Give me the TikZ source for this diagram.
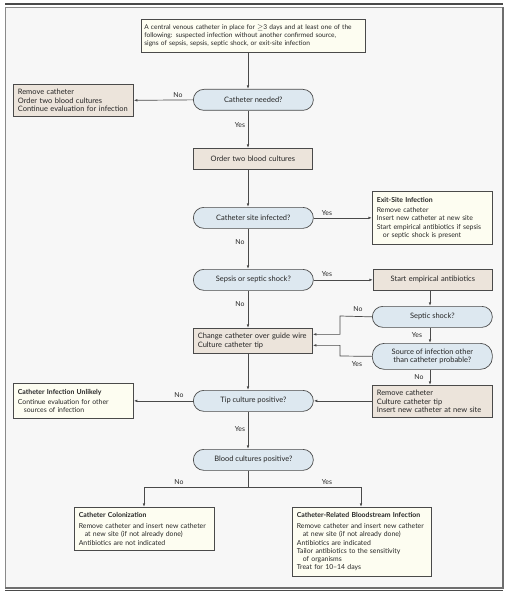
\documentclass[tikz,border=0pt]{standalone}
\usepackage{fontspec}
\setmainfont{Lato}
\usetikzlibrary{arrows.meta}
\definecolor{bgc}{HTML}{F7F7F7}
\definecolor{framec}{HTML}{8A8A8A}
\definecolor{linec}{HTML}{4A4A4A}
\definecolor{bluec}{HTML}{DDE8F0}
\definecolor{beigec}{HTML}{ECE4DB}
\definecolor{creamc}{HTML}{FDFDF1}
\begin{document}
\begin{tikzpicture}[x=1bp,y=-1bp,
  txt/.style={font=\fontsize{6.9}{8.3}\selectfont, text=black!85},
  bigtxt/.style={font=\fontsize{7.5}{8.6}\selectfont, text=black!85},
  basebox/.style={draw=linec, line width=0.7bp, anchor=north west, inner xsep=4.5bp, inner ysep=0pt, align=left},
  cream/.style={basebox, txt, fill=creamc},
  beige/.style={basebox, bigtxt, fill=beigec},
  decision/.style={bigtxt, draw=linec, line width=0.7bp, fill=bluec, anchor=north west, rounded corners=10.5bp, minimum width=120bp, minimum height=21bp, inner sep=0pt, align=center},
  arr/.style={draw=linec, line width=0.7bp, -{Latex[length=3.6bp,width=2.6bp]}},
  ln/.style={draw=linec, line width=0.7bp},
  lbl/.style={txt, inner sep=0pt}
]
\useasboundingbox (0,0) rectangle (510,600);
% frame
\fill[bgc] (5,7) rectangle (503,588);
\draw[framec, line width=0.8bp] (5,7) rectangle (503,588);
\draw[framec!80!black, line width=1.2bp] (503,7) -- (503,588) -- (5,588);
\draw[linec, line width=1.3bp] (5,4) -- (503,4);
\draw[linec, line width=1.3bp] (5,590.5) -- (503,590.5);

% nodes
\node[cream, minimum width=224bp, minimum height=33bp, text width=218bp, inner xsep=3bp, font=\fontsize{6.6}{8.3}\selectfont] (start) at (141,19)
 {A central venous catheter in place for $\geq$3 days and at least one of the\\ following: suspected infection without another confirmed source,\\ signs of sepsis, sepsis, septic shock, or exit-site infection};
\node[decision] (needed) at (193,89) {Catheter needed?};
\node[beige, minimum width=120bp, minimum height=32bp, text width=111bp] (remove1) at (13,84)
 {Remove catheter\\ Order two blood cultures\\ Continue evaluation for infection};
\node[beige, minimum width=119bp, minimum height=21bp, text width=110bp, align=center] (order) at (193,148) {Order two blood cultures};
\node[decision] (site) at (193,207) {Catheter site infected?};
\node[cream, minimum width=120bp, minimum height=53bp, text width=111bp] (exit) at (372,191)
 {\textbf{Exit-Site Infection}\\[2bp] Remove catheter\\ Insert new catheter at new site\\ Start empirical antibiotics if sepsis\\ \hspace*{6bp}or septic shock is present};
\node[decision] (sepsis) at (193,269) {Sepsis or septic shock?};
\node[beige, minimum width=119bp, minimum height=21bp, text width=110bp, align=center] (empir) at (373,269) {Start empirical antibiotics};
\node[decision] (shock) at (372,306) {Septic shock?};
\node[beige, minimum width=119bp, minimum height=25bp, text width=110bp] (change) at (193,328)
 {Change catheter over guide wire\\ Culture catheter tip};
\node[decision, minimum height=26bp, rounded corners=12bp] (source) at (372,343)
 {Source of infection other\\ than catheter probable?};
\node[beige, minimum width=120bp, minimum height=32bp, text width=111bp] (remove2) at (372,385)
 {Remove catheter\\ Culture catheter tip\\ Insert new catheter at new site};
\node[decision] (tip) at (193,390) {Tip culture positive?};
\node[cream, minimum width=120bp, minimum height=35bp, text width=111bp] (unlikely) at (13,383)
 {\textbf{Catheter Infection Unlikely}\\[2bp] Continue evaluation for other\\ \hspace*{6bp}sources of infection};
\node[decision] (blood) at (193,449) {Blood cultures positive?};
\node[cream, minimum width=140bp, minimum height=43bp, text width=131bp] (colon) at (74,507)
 {\textbf{Catheter Colonization}\\[2.5bp] Remove catheter and insert new catheter\\ \hspace*{6bp}at new site (if not already done)\\ Antibiotics are not indicated};
\node[cream, minimum width=139bp, minimum height=69bp, text width=130bp] (crbsi) at (292,507)
 {\textbf{Catheter-Related Bloodstream Infection}\\[2.5bp] Remove catheter and insert new catheter\\ \hspace*{6bp}at new site (if not already done)\\ Antibiotics are indicated\\ Tailor antibiotics to the sensitivity\\ \hspace*{6bp}of organisms\\ Treat for 10--14 days};

% connectors
\coordinate (mainx) at (248,0);
\draw[arr] (mainx |- start.south) -- (mainx |- needed.north);
\draw[arr] (mainx |- needed.south) -- (mainx |- order.north);
\draw[arr] (needed.west) -- (remove1.east);
\draw[arr] (mainx |- order.south) -- (mainx |- site.north);
\draw[arr] (site.east) -- (site.east -| exit.west);
\draw[arr] (mainx |- site.south) -- (mainx |- sepsis.north);
\draw[arr] (sepsis.east) -- (empir.west);
\draw[arr] (mainx |- sepsis.south) -- (mainx |- change.north);
\coordinate (rightx) at (430,0);
\draw[arr] (rightx |- empir.south) -- (rightx |- shock.north);
\coordinate (jx) at (340,316);
\draw[arr] (shock.west) -- (jx) |- ([yshift=6.5bp]change.east);
\draw[arr] (rightx |- shock.south) -- (rightx |- source.north);
\coordinate (jy) at (340,356);
\draw[arr] (source.west) -- (jy) |- ([yshift=-4.5bp]change.east);
\draw[arr] (rightx |- source.south) -- (rightx |- remove2.north);
\draw[arr] (remove2.west |- tip.east) -- (tip.east);
\draw[arr] (mainx |- change.south) -- (mainx |- tip.north);
\draw[arr] (tip.west) -- (tip.west -| unlikely.east);
\draw[arr] (mainx |- tip.south) -- (mainx |- blood.north);
\coordinate (split) at (248,487);
\coordinate (splitL) at (144,487);
\coordinate (splitR) at (361,487);
\draw[ln] (mainx |- blood.south) -- (split);
\draw[arr] (split) -- (splitL) -- (splitL |- colon.north);
\draw[arr] (split) -- (splitR) -- (splitR |- crbsi.north);

% labels
\node[lbl] (l1) at (178,95) {No};
\node[lbl] (l2) at (240,125) {Yes};
\node[lbl] (l3) at (327,213) {Yes};
\node[lbl] (l4) at (240,242) {No};
\node[lbl] (l5) at (327,274) {Yes};
\node[lbl] (l6) at (240,304) {No};
\node[lbl] (l7) at (358,309) {No};
\node[lbl] (l8) at (417,335) {Yes};
\node[lbl] (l9) at (357,364) {Yes};
\node[lbl] (l10) at (419,377) {No};
\node[lbl] (l11) at (179,395) {No};
\node[lbl] (l12) at (240,429) {Yes};
\node[lbl] (l13) at (179,482) {No};
\node[lbl] (l14) at (327,482) {Yes};
\end{tikzpicture}
\end{document}
